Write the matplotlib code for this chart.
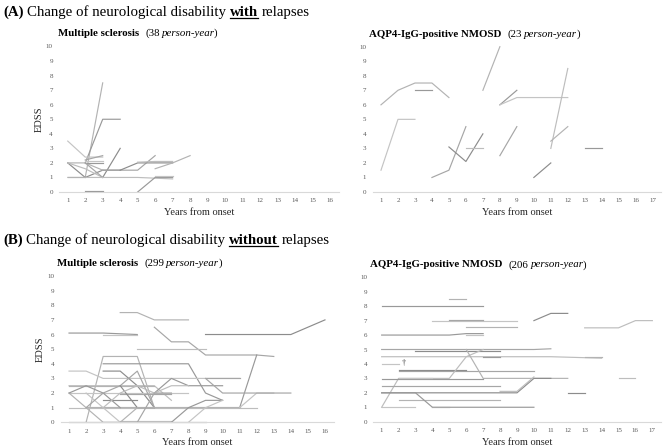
import matplotlib
matplotlib.use('Agg')
import matplotlib.pyplot as plt
from matplotlib.lines import Line2D

plt.rcParams['font.family'] = ['Liberation Serif', 'DejaVu Serif']

# each entry: (years, EDSS) for one patient record
ms_with = [
    ([2, 3], [1, 7.5]),
    ([2, 3, 4], [2, 5, 5]),
    ([1, 2, 3], [3.5, 2.4, 2.4]),
    ([2, 3], [2.2, 2.5]),
    ([1, 2, 3, 4], [2, 1, 1.5, 1.5]),
    ([1, 2, 3], [2, 1.6, 1]),
    ([1, 2, 3], [2, 2, 1.5]),
    ([2, 3], [2, 2]),
    ([2, 3], [2.1, 2.1]),
    ([2, 3], [2, 1]),
    ([3, 4], [1, 3]),
    ([1, 2, 5, 7], [1, 1, 1, 0.9]),
    ([1, 2], [1.05, 1.05]),
    ([5, 6, 7], [0, 1, 1]),
    ([6, 7], [1.1, 1.1]),
    ([3, 4, 5, 6], [1.5, 1.5, 1.5, 2.5]),
    ([4, 5, 7], [1.5, 2, 2]),
    ([5, 6, 7], [2.05, 2.1, 2.1]),
    ([6, 7, 8], [1.6, 2, 2.5]),
    ([2, 3], [0.1, 0.1]),
]

nmo_with = [
    ([1, 2, 3, 4, 5], [6, 7, 7.5, 7.5, 6.5]),
    ([3, 4], [7, 7]),
    ([1, 2, 3], [1.5, 5, 5]),
    ([4, 5, 6], [1, 1.5, 4.5]),
    ([5, 6, 7], [3.1, 2.1, 4]),
    ([6, 7], [3, 3]),
    ([7, 8], [7, 10]),
    ([8, 9], [6, 7]),
    ([8, 9, 12], [6, 6.5, 6.5]),
    ([8, 9], [2.5, 4.5]),
    ([10, 11], [1, 2]),
    ([11, 12], [3, 8.5]),
    ([11, 12], [3.5, 4.5]),
    ([13, 14], [3, 3]),
]

ms_without = [
    ([4, 5, 6, 8], [7.5, 7.5, 7, 7]),
    ([1, 3, 5], [6.1, 6.1, 6]),
    ([3, 5], [6, 6]),
    ([6, 7, 8, 9, 12, 13], [6.5, 5.5, 5.5, 4.6, 4.6, 4.5]),
    ([9, 14, 16], [6, 6, 7]),
    ([5, 9], [5, 5]),
    ([2, 3, 5, 6], [0, 4.5, 4.5, 1]),
    ([3, 8, 9, 10], [4, 4, 2, 1.5]),
    ([1, 2, 3, 11], [3.5, 3.5, 3, 3]),
    ([9, 11], [3.05, 3.05]),
    ([3, 4, 5, 6], [3.5, 3.5, 2.5, 1]),
    ([1, 6, 7], [2.5, 2.5, 1.5]),
    ([1, 6], [2.45, 2.45]),
    ([6, 7, 8, 10], [2, 3, 2.5, 2.5]),
    ([1, 8], [2, 2]),
    ([4, 7], [1.95, 1.95]),
    ([3, 5], [1.5, 1.5]),
    ([1, 11, 12], [1, 1, 1]),
    ([2, 11], [1.05, 1.05]),
    ([11, 12], [1, 4.6]),
    ([11, 12, 13], [1, 2, 2]),
    ([9, 10, 14], [3, 2, 2]),
    ([1, 9], [0.05, 0.05]),
    ([4, 7], [0.1, 0.1]),
    ([1, 2, 3, 5], [2, 1, 0, 0]),
    ([1, 2, 3, 4], [2, 2.5, 2, 1]),
    ([2, 3, 4], [2, 1, 0]),
    ([2, 3, 4, 5, 6], [1, 2, 2.5, 3.5, 1]),
    ([4, 5, 6], [2.5, 1, 1]),
    ([3, 4, 5, 6, 7, 8], [1, 2, 2.5, 2, 2.5, 2.5]),
    ([4, 5, 6], [0, 1, 1]),
    ([7, 8, 9, 10], [0, 1, 1.5, 1.5]),
    ([8, 9, 10], [0, 1, 1.5]),
    ([5, 6, 7], [0, 2, 2]),
]

nmo_without = [
    ([5, 6], [8.5, 8.5]),
    ([1, 7], [8, 8]),
    ([4, 9], [7, 7]),
    ([5, 7], [7.05, 7.05]),
    ([10, 11, 12], [7, 7.5, 7.5]),
    ([13, 15, 16, 17], [6.5, 6.5, 7, 7]),
    ([6, 9], [6.55, 6.55]),
    ([1, 5, 6, 7], [6, 6, 6.1, 6.1]),
    ([6, 7], [6, 6]),
    ([1, 10, 11], [5, 5, 5.05]),
    ([3, 8], [4.9, 4.9]),
    ([1, 10, 11, 14], [4.5, 4.5, 4.5, 4.4]),
    ([13, 14], [4.45, 4.45]),
    ([7, 8], [4.45, 4.45]),
    ([1, 2], [4, 4]),
    ([2, 6, 10], [3.5, 3.5, 3.5]),
    ([2, 6], [3.55, 3.55]),
    ([1, 2, 5, 6, 7], [1, 3, 3, 4.5, 5]),
    ([6, 7, 12], [5, 3, 3]),
    ([1, 7], [2.95, 2.95]),
    ([2, 4], [3.05, 3.05]),
    ([1, 8], [2.5, 2.5]),
    ([1, 9, 10, 11], [2, 2, 3, 3]),
    ([8, 9, 10], [2.1, 2.1, 3.1]),
    ([2, 8], [1.5, 1.5]),
    ([1, 3, 4, 10], [2, 2, 1, 1]),
    ([1, 3], [1, 1]),
    ([4, 5], [1.05, 1.05]),
    ([12, 13], [2, 2]),
    ([15, 16], [3, 3]),
]
death_mark = (2.2, 4.05)

grays = ['#b3b3b3', '#999999', '#c4c4c4', '#a6a6a6', '#8c8c8c', '#bdbdbd']

W, H = 669, 448
fig = plt.figure(figsize=(W / 100, H / 100), dpi=100)
renderer = fig.canvas.get_renderer()


def panel(left, right, bottom, top, lines, n_years, ylab):
    ax = fig.add_axes([left / W, 1 - bottom / H, (right - left) / W, (bottom - top) / H])
    for i, (xs, ys) in enumerate(lines):
        ax.plot(xs, ys, color=grays[i % len(grays)], lw=0.85, clip_on=False)
    ax.set_xlim(0.5, n_years + 0.5)
    ax.set_ylim(0, 10)
    ax.set_xticks(range(1, n_years + 1))
    ax.set_yticks(range(0, 11))
    ax.tick_params(length=0, labelsize=5, colors='#595959', pad=4.5)
    for s in ['top', 'right', 'left']:
        ax.spines[s].set_visible(False)
    ax.spines['bottom'].set_color('#d9d9d9')
    ax.spines['bottom'].set_linewidth(0.8)
    ax.set_xlabel('Years from onset', fontsize=7.5, labelpad=3.5, color='#262626')
    if ylab:
        ax.set_ylabel('EDSS', fontsize=7.5, labelpad=1.5, color='#262626')
    ax.patch.set_alpha(0)
    return ax


def runs(x, y, parts, size):
    # parts: (text, weight, style, underline, gap before in px)
    for text, weight, style, under, gap in parts:
        x += gap
        t = fig.text(x / W, 1 - y / H, text, fontsize=size, fontweight=weight,
                     fontstyle=style, va='baseline', ha='left')
        bb = t.get_window_extent(renderer)
        if under:
            fig.add_artist(Line2D([bb.x0 / W, bb.x1 / W], [1 - (y + 1.8) / H] * 2,
                                  color='black', lw=0.9))
        x = bb.x1


panel(59, 338.7, 192, 46.5, ms_with, 16, True)
panel(372.5, 661.2, 192, 46.7, nmo_with, 17, False)
panel(60.5, 333.5, 422.3, 276, ms_without, 16, True)
ax4 = panel(373.2, 660.8, 421.7, 277.3, nmo_without, 17, False)
ax4.text(death_mark[0], death_mark[1], '†', fontsize=6, va='center', ha='left', color='#404040')

sp = 3.8
runs(3, 16, [('(A)', 'bold', 'normal', False, 0),
             ('Change of neurological disability', 'normal', 'normal', False, sp),
             ('with', 'bold', 'normal', True, sp),
             ('relapses', 'normal', 'normal', False, sp)], 10.7)
runs(3, 244, [('(B)', 'bold', 'normal', False, 0),
              ('Change of neurological disability', 'normal', 'normal', False, sp),
              ('without', 'bold', 'normal', True, sp),
              ('relapses', 'normal', 'normal', False, sp)], 10.7)

s2 = 2
runs(58, 36, [('Multiple sclerosis', 'bold', 'normal', False, 0),
              ('(38', 'normal', 'normal', False, 6),
              ('person-year', 'normal', 'italic', False, s2),
              (')', 'normal', 'normal', False, -0.5)], 7.8)
runs(369, 36.7, [('AQP4-IgG-positive NMOSD', 'bold', 'normal', False, 0),
                 ('(23', 'normal', 'normal', False, 6),
                 ('person-year', 'normal', 'italic', False, s2),
                 (')', 'normal', 'normal', False, -0.5)], 7.8)
runs(57, 265.7, [('Multiple sclerosis', 'bold', 'normal', False, 0),
                 ('(299', 'normal', 'normal', False, 6),
                 ('person-year', 'normal', 'italic', False, s2),
                 (')', 'normal', 'normal', False, -0.5)], 7.8)
runs(370, 267.3, [('AQP4-IgG-positive NMOSD', 'bold', 'normal', False, 0),
                  ('(206', 'normal', 'normal', False, 6),
                  ('person-year', 'normal', 'italic', False, s2),
                  (')', 'normal', 'normal', False, -0.5)], 7.8)

fig.savefig('out.png', dpi=100)
